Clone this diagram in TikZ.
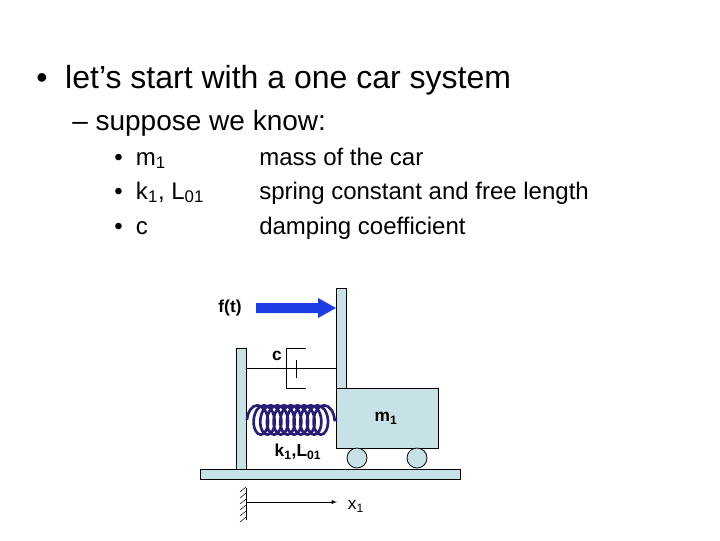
\documentclass[tikz,border=0pt]{standalone}
\usepackage{fontspec}
\setmainfont{Liberation Sans}
\usetikzlibrary{positioning,decorations.pathmorphing,patterns}
\definecolor{partfill}{RGB}{198,226,230}
\definecolor{forceblue}{RGB}{30,60,230}
\definecolor{springnavy}{RGB}{40,30,120}
\tikzset{part/.style={draw=black,fill=partfill,line width=0.6pt},
  lbl/.style={font=\bfseries\fontsize{13}{15}\selectfont,inner sep=0pt},
  txt/.style={anchor=base west,inner sep=0pt}}
\begin{document}
\begin{tikzpicture}[x=0.75pt,y=-0.75pt]
        \useasboundingbox (0,0) rectangle (720,540);
        % slide text
        \node[txt,font=\fontsize{24}{28}\selectfont] (l1) at (36,88) {\textbullet\ \ let’s start with a one car system};
        \node[txt,font=\fontsize{21}{25}\selectfont] (l2) at (72,130) {– suppose we know:};
        \foreach \y/\a/\b [count=\i] in {165/m\textsubscript{1}/mass of the car,
                                      199/{k\textsubscript{1}, L\textsubscript{01}}/spring constant and free length,
                                      234/c/damping coefficient}{
          \node[txt,font=\fontsize{18}{21}\selectfont] (a\i) at (114,\y) {\textbullet\ \ \a};
          \node[txt,font=\fontsize{18}{21}\selectfont] (b\i) at (259,\y) {\b};
        }
        % floor, wall and cart
        \draw[part] (200,469) rectangle (460,479);
        \draw[part] (236,348) rectangle (246,469);
        \draw[part] (336,288) rectangle (346,389);
        \draw[part] (336,388) rectangle (438,448);
        \node[lbl] (m) at (386,418) {m\textsubscript{1}};
        \draw[part] (357,458) circle (10);
        \draw[part] (417,458) circle (10);
        % spring
        \draw[springnavy,line width=2pt,decorate,decoration={coil,amplitude=11pt,segment length=5pt,aspect=0.6}]
          (247,420) -- (337,420);
        \node[lbl] (k) at (298,452) {k\textsubscript{1},L\textsubscript{01}};
        % damper
        \draw (246,368) -- (296,368);
        \draw (306,348) -- (286,348) -- (286,388) -- (306,388);
        \draw (296,360) -- (296,378);
        \draw (296,368) -- (336,368);
        \node[lbl] (c) at (277,356) {c};
        % force
        \fill[forceblue] (256,303) -- (318,303) -- (318,298) -- (336,308) -- (318,318) -- (318,313) -- (256,313) -- cycle;
        \node[lbl] (f) at (230,308) {f(t)};
        % ground reference
        \draw (246,488) -- (246,520);
        \foreach \y in {492,498,...,522}
          \draw (240,\y) -- (246,\y-5);
        \draw[-latex] (246,502) -- (337,502);
        \node[font=\fontsize{13}{15}\selectfont] (x) at (356,506) {x\textsubscript{1}};
\end{tikzpicture}
\end{document}
